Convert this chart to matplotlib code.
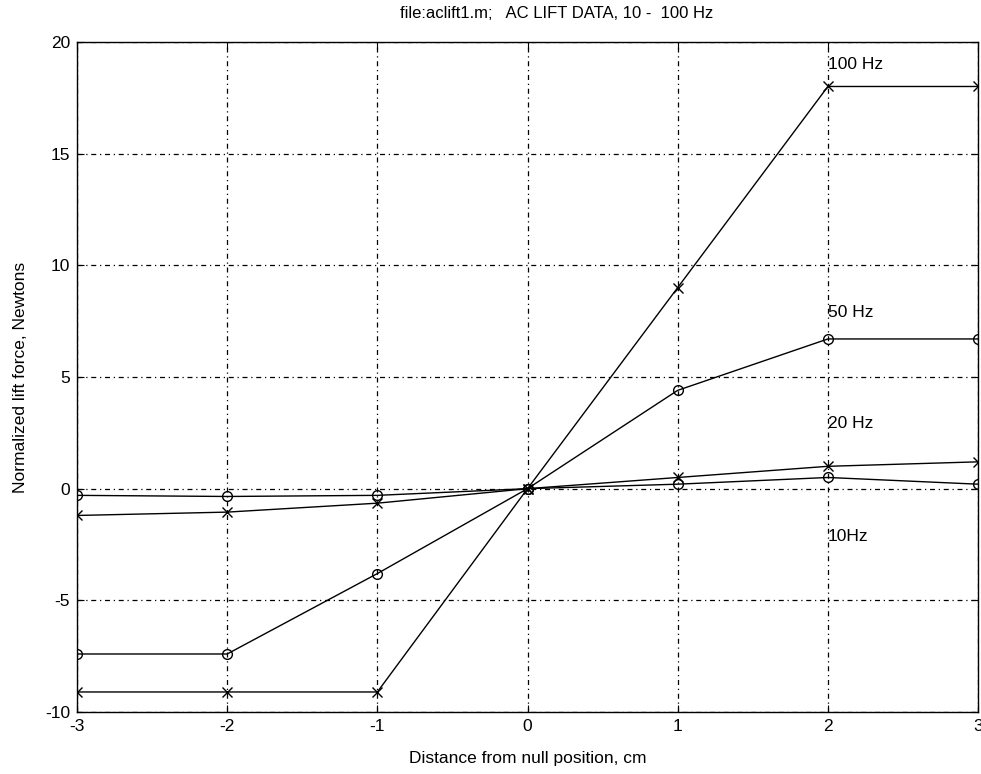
import numpy as np
import matplotlib.pyplot as plt

plt.rcParams['font.family'] = ['Liberation Sans', 'DejaVu Sans']
plt.rcParams['axes.unicode_minus'] = False

# смещение от нулевого положения, см
x = [-3, -2, -1, 0, 1, 2, 3]
# нормированная подъёмная сила, Н
f100 = [-9.1, -9.1, -9.1, 0.0, 9.0, 18.0, 18.0]
f50 = [-7.4, -7.4, -3.8, 0.0, 4.4, 6.7, 6.7]
f20 = [-1.2, -1.05, -0.65, 0.0, 0.5, 1.0, 1.2]
f10 = [-0.3, -0.35, -0.3, 0.0, 0.2, 0.5, 0.2]

# подписи кривых: текст, x, y
labels = [('100 Hz', 2.0, 19.0), ('50 Hz', 2.0, 7.9),
          ('20 Hz', 2.0, 2.9), ('10Hz', 2.0, -2.15)]

fig = plt.figure(figsize=(9.81, 7.74), dpi=100, facecolor='white')
ax = fig.add_axes([0.0785, 0.080, 0.9185, 0.866])

ax.plot(x, f100, 'k-x', lw=1.0, ms=7, mew=1.0)
ax.plot(x, f50, 'k-o', lw=1.0, ms=7, mew=1.0, mfc='none')
ax.plot(x, f20, 'k-x', lw=1.0, ms=7, mew=1.0)
ax.plot(x, f10, 'k-o', lw=1.0, ms=7, mew=1.0, mfc='none')

for txt, tx, ty in labels:
    ax.text(tx, ty, txt, fontsize=12.5, ha='left', va='center')

ax.set_xlim(-3, 3)
ax.set_ylim(-10, 20)
ax.set_xticks(np.arange(-3, 4, 1))
ax.set_yticks(np.arange(-10, 21, 5))
ax.grid(True, color='k', lw=0.9, linestyle=(0, (4, 3, 1, 3)))
ax.tick_params(direction='in', top=True, right=True, labelsize=12.5,
               length=5, pad=5)
for s in ax.spines.values():
    s.set_linewidth(1.0)

ax.set_xlabel('Distance from null position, cm', fontsize=12.5, labelpad=12)
ax.set_ylabel('Normalized lift force, Newtons', fontsize=12.5, labelpad=12)
fig.text(0.567, 0.982, 'file:aclift1.m;   AC LIFT DATA, 10 -  100 Hz',
         fontsize=12, ha='center', va='center')

fig.savefig('out.png', dpi=100)
